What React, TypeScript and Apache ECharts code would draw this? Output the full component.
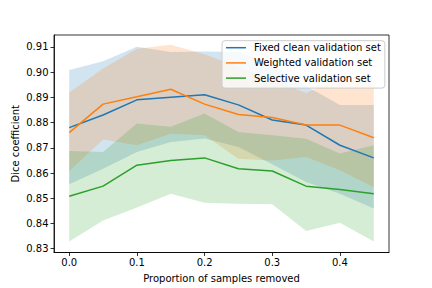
import React, { useEffect, useRef } from "react";
import * as echarts from "echarts";

const xs = [0, 0.05, 0.1, 0.15, 0.2, 0.25, 0.3, 0.35, 0.4, 0.45];

const fixedMean = [0.878, 0.883, 0.889, 0.89, 0.891, 0.887, 0.881, 0.879, 0.871, 0.866];
const fixedLow = [0.8555, 0.8617, 0.8683, 0.8723, 0.8737, 0.8703, 0.8635, 0.8564, 0.8518, 0.8459];
const fixedHigh = [0.9008, 0.9043, 0.91, 0.908, 0.9082, 0.908, 0.903, 0.8945, 0.887, 0.887];

const weightedMean = [0.876, 0.8873, 0.8902, 0.8932, 0.8873, 0.8832, 0.882, 0.879, 0.879, 0.874];
const weightedLow = [0.8607, 0.8733, 0.871, 0.8756, 0.875, 0.8657, 0.865, 0.8663, 0.8611, 0.8544];
const weightedHigh = [0.8919, 0.9014, 0.9093, 0.9108, 0.9071, 0.902, 0.897, 0.8917, 0.898, 0.898];

const selectiveMean = [0.8508, 0.8548, 0.8631, 0.865, 0.866, 0.8617, 0.8608, 0.8548, 0.8535, 0.8518];
const selectiveLow = [0.8329, 0.8412, 0.8463, 0.8518, 0.8482, 0.8478, 0.8476, 0.837, 0.8403, 0.8329];
const selectiveHigh = [0.8687, 0.8683, 0.8796, 0.8783, 0.8836, 0.8763, 0.875, 0.8736, 0.8677, 0.871];

const seriesNames = ["Fixed clean validation set", "Weighted validation set", "Selective validation set"];
const colors = ["#1f77b4", "#ff7f0e", "#2ca02c"];
const bandColors = ["rgba(31,119,180,0.2)", "rgba(255,127,14,0.2)", "rgba(44,160,44,0.2)"];

const xTicks = [0.0, 0.1, 0.2, 0.3, 0.4];
const yTicks = [0.83, 0.84, 0.85, 0.86, 0.87, 0.88, 0.89, 0.9, 0.91];

const FONT = "DejaVu Sans";

function band(name: string, low: number[], high: number[], color: string) {
  return {
    type: "custom",
    name,
    silent: true,
    z: 1,
    data: xs.map((x, i) => [x, low[i], high[i]]),
    encode: { x: 0, y: [1, 2] },
    renderItem: (params: any, api: any) => {
      if (params.dataIndex !== 0) return { type: "group", children: [] };
      const top = xs.map((x, i) => api.coord([x, high[i]]));
      const bot = xs.map((x, i) => api.coord([x, low[i]])).reverse();
      return {
        type: "polygon",
        shape: { points: top.concat(bot) },
        style: { fill: color, stroke: "none" },
      };
    },
  };
}

function line(name: string, vals: number[], color: string) {
  return {
    type: "line",
    name,
    z: 3,
    data: xs.map((x, i) => [x, vals[i]]),
    symbol: "none",
    lineStyle: { color, width: 1.5 },
    itemStyle: { color },
  };
}

export default function App() {
  const ref = useRef<HTMLDivElement>(null);
  useEffect(() => {
    if (!ref.current) return;
    const chart = echarts.init(ref.current, null, { renderer: "svg" });
    chart.setOption({
      animation: false,
      backgroundColor: "#ffffff",
      textStyle: { fontFamily: FONT },
      grid: {
        left: 54,
        right: 43,
        top: 35,
        bottom: 35.5,
        show: true,
        borderColor: "#000",
        borderWidth: 0.8,
        backgroundColor: "transparent",
        containLabel: false,
        outerBoundsMode: "none",
      },
      legend: {
        orient: "vertical",
        left: 222,
        top: 40.7,
        padding: [1.5, 4, 4.5, 4],
        itemWidth: 20,
        itemHeight: 1.5,
        itemGap: 4.2,
        icon: "rect",
        backgroundColor: "rgba(255,255,255,0.8)",
        borderColor: "#cccccc",
        borderWidth: 1,
        borderRadius: 3,
        data: seriesNames.map((n, i) => ({ name: n, itemStyle: { color: colors[i] } })),
        textStyle: { fontFamily: FONT, fontSize: 10, color: "#000", lineHeight: 11, padding: [0, 0, 0, 3] },
      },
      xAxis: {
        type: "value",
        min: -0.0225,
        max: 0.4725,
        name: "Proportion of samples removed",
        nameLocation: "middle",
        nameGap: 20.5,
        nameMoveOverlap: false,
        nameTextStyle: { fontFamily: FONT, fontSize: 10, color: "#000", verticalAlign: "top" },
        axisLine: { show: true, onZero: false, lineStyle: { color: "#000", width: 0.8 } },
        axisTick: { show: true, length: 3.5, inside: false, lineStyle: { color: "#000", width: 0.8 }, customValues: xTicks },
        axisLabel: {
          show: true,
          customValues: xTicks,
          margin: 5,
          fontFamily: FONT,
          fontSize: 10,
          color: "#000",
          formatter: (v: number) => v.toFixed(1),
        },
        splitLine: { show: false },
      },
      yAxis: {
        type: "value",
        min: 0.8285,
        max: 0.9147,
        name: "Dice coefficient",
        nameLocation: "middle",
        nameGap: 34,
        nameRotate: 90,
        nameMoveOverlap: false,
        nameTextStyle: { fontFamily: FONT, fontSize: 10, color: "#000" },
        axisLine: { show: true, onZero: false, lineStyle: { color: "#000", width: 0.8 } },
        axisTick: { show: true, length: 3.5, inside: false, lineStyle: { color: "#000", width: 0.8 }, customValues: yTicks },
        axisLabel: {
          show: true,
          customValues: yTicks,
          margin: 5.5,
          fontFamily: FONT,
          fontSize: 10,
          color: "#000",
          formatter: (v: number) => v.toFixed(2),
        },
        splitLine: { show: false },
      },
      series: [
        band("fixedBand", fixedLow, fixedHigh, bandColors[0]),
        band("weightedBand", weightedLow, weightedHigh, bandColors[1]),
        band("selectiveBand", selectiveLow, selectiveHigh, bandColors[2]),
        line(seriesNames[0], fixedMean, colors[0]),
        line(seriesNames[1], weightedMean, colors[1]),
        line(seriesNames[2], selectiveMean, colors[2]),
      ],
    });
    return () => chart.dispose();
  }, []);
  return <div ref={ref} style={{ position: "fixed", left: 0, top: 0, width: 432, height: 288 }} />;
}
